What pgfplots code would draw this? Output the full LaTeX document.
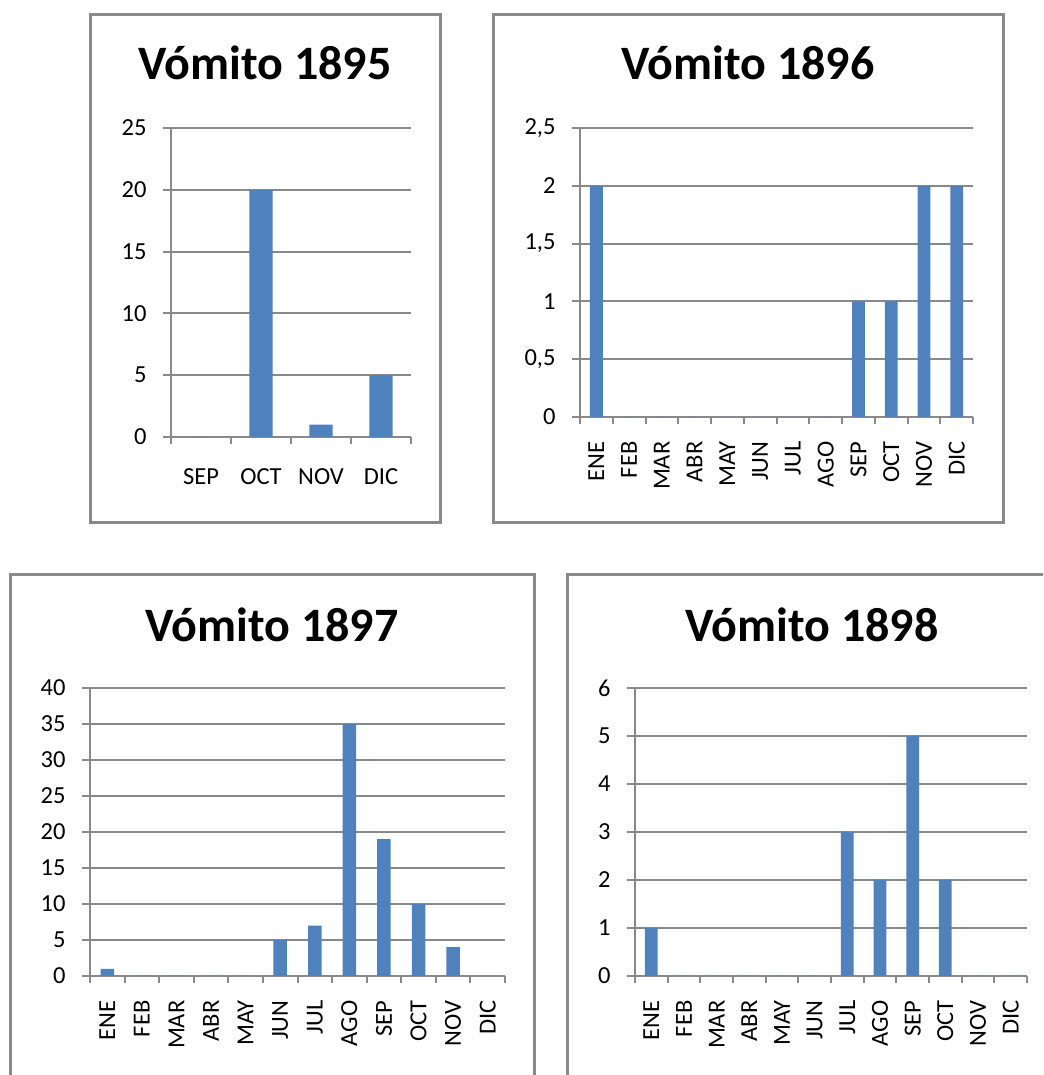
\documentclass[border=0pt]{standalone}
\usepackage{pgfplots}
\pgfplotsset{compat=1.18}
\usepackage{fontspec}
\setmainfont{Carlito}
\definecolor{bx}{RGB}{137,137,137}
\definecolor{barblue}{RGB}{79,129,189}
\pgfplotsset{excel/.style={
  scale only axis, anchor=south west,
  ybar, bar width=0.39, ymin=0,
  axis x line*=bottom, axis y line*=left,
  axis line style={draw=bx, line width=2pt},
  ymajorgrids, grid style={draw=bx, line width=2pt},
  tick align=outside,
  major tick length=8pt, minor tick length=7pt,
  tick style={draw=bx, line width=2pt},
  major x tick style={draw=none},
  tick label style={font=\fontsize{24.5}{28}\selectfont, text=black},
  yticklabel style={xshift=-13pt},
  /pgf/number format/assume math mode=true,
  xtick={0,...,11},
  xticklabels={ENE,FEB,MAR,ABR,MAY,JUN,JUL,AGO,SEP,OCT,NOV,DIC},
  minor xtick={-0.5,0.5,...,11.5},
  xmin=-0.5, xmax=11.5,
}, rotlab/.style={xticklabel style={yshift=-13pt, rotate=90, anchor=east}}}
\begin{document}
\begin{tikzpicture}
\useasboundingbox (0pt,0pt) rectangle (1043pt,1075pt);
\clip (0pt,0pt) rectangle (1043pt,1075pt);
% boxes
\draw[bx, line width=3pt] (90pt,552pt) rectangle (440pt,1060pt);
\draw[bx, line width=3pt] (493pt,552pt) rectangle (1003pt,1060pt);
\draw[bx, line width=3pt] (10pt,-20pt) rectangle (534pt,500pt);
\draw[bx, line width=3pt] (567pt,-20pt) rectangle (1060pt,500pt);
% titles
\node[anchor=base, font=\bfseries\fontsize{48}{52}\selectfont] at (265pt,995pt) {Vómito 1895};
\node[anchor=base, font=\bfseries\fontsize{48}{52}\selectfont] at (748pt,995pt) {Vómito 1896};
\node[anchor=base, font=\bfseries\fontsize{48}{52}\selectfont] at (272pt,433pt) {Vómito 1897};
\node[anchor=base, font=\bfseries\fontsize{48}{52}\selectfont] at (812pt,433pt) {Vómito 1898};
% 1895
\begin{axis}[excel, at={(171pt,638pt)}, width=240pt, height=309pt,
  xmin=-0.5, xmax=3.5, xtick={0,1,2,3}, xticklabels={SEP,OCT,NOV,DIC},
  minor xtick={-0.5,0.5,1.5,2.5,3.5},
  xticklabel style={anchor=base, yshift=-40pt},
  ymax=25, ytick={0,5,...,25}]
\addplot[fill=barblue, draw=none] coordinates {(0,0) (1,20) (2,1) (3,5)};
\end{axis}
% 1896
\begin{axis}[excel, rotlab, at={(580pt,658pt)}, width=393pt, height=289pt,
  ymax=2.5, ytick={0,0.5,...,2.5}, /pgf/number format/use comma]
\addplot[fill=barblue, draw=none] coordinates {(0,2) (1,0) (2,0) (3,0) (4,0) (5,0) (6,0) (7,0) (8,1) (9,1) (10,2) (11,2)};
\end{axis}
% 1897
\begin{axis}[excel, rotlab, at={(90pt,99pt)}, width=415pt, height=288pt,
  ymax=40, ytick={0,5,...,40}]
\addplot[fill=barblue, draw=none] coordinates {(0,1) (1,0) (2,0) (3,0) (4,0) (5,5) (6,7) (7,35) (8,19) (9,10) (10,4) (11,0)};
\end{axis}
% 1898
\begin{axis}[excel, rotlab, at={(635pt,99pt)}, width=392pt, height=288pt,
  ymax=6, ytick={0,1,...,6}]
\addplot[fill=barblue, draw=none] coordinates {(0,1) (1,0) (2,0) (3,0) (4,0) (5,0) (6,3) (7,2) (8,5) (9,2) (10,0) (11,0)};
\end{axis}
\end{tikzpicture}
\end{document}
